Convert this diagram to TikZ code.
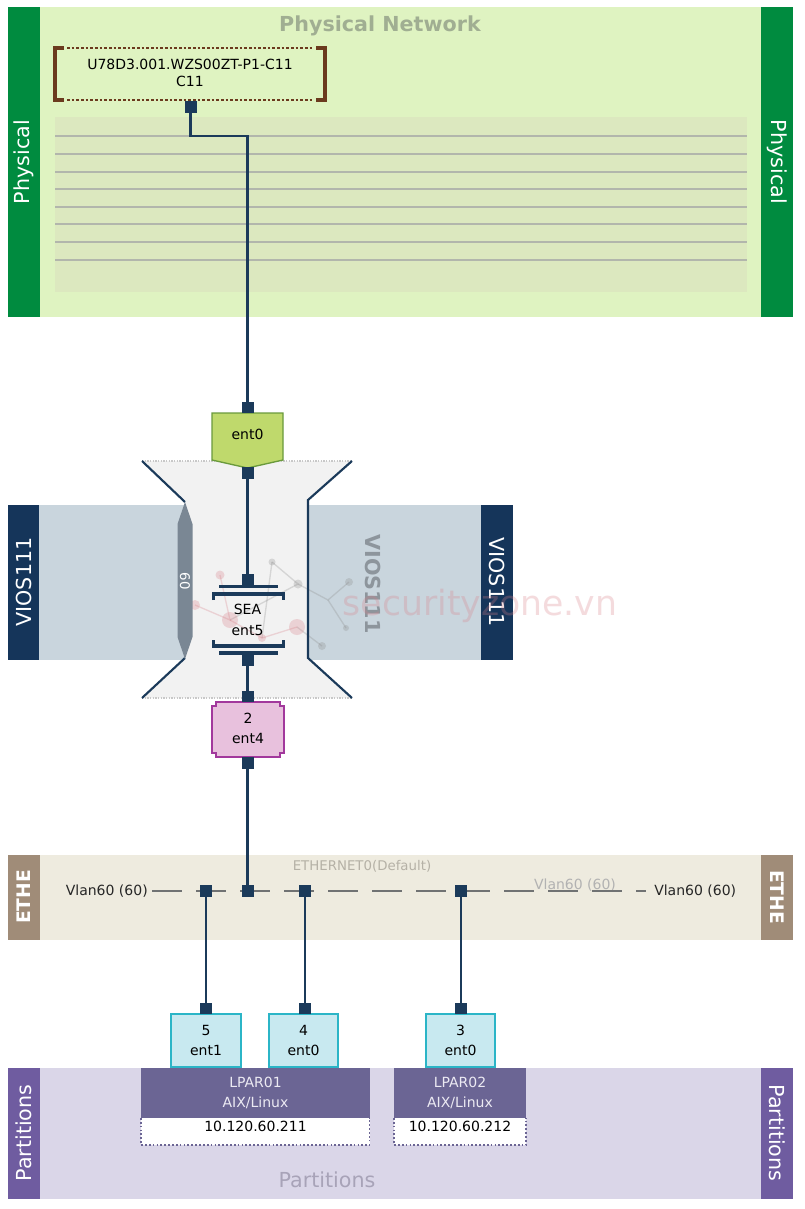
\documentclass[tikz,border=0pt]{standalone}
\usepackage{fontspec}
\setmainfont{DejaVu Sans}
\usetikzlibrary{calc}
\definecolor{navy}{HTML}{1B3A5A}
\definecolor{physbg}{HTML}{DFF3C1}
\definecolor{physin}{HTML}{DCE8BF}
\definecolor{physbar}{HTML}{008B3F}
\definecolor{physline}{HTML}{B2B6AC}
\definecolor{titlegray}{HTML}{A0AE92}
\definecolor{portbrown}{HTML}{6B3A1E}
\definecolor{entgreen}{HTML}{BFD96C}
\definecolor{entgreenb}{HTML}{6A9A3C}
\definecolor{viosbg}{HTML}{C9D5DD}
\definecolor{viosdark}{HTML}{15355A}
\definecolor{viostext}{HTML}{8D959C}
\definecolor{hgfill}{HTML}{F2F2F2}
\definecolor{hgdot}{HTML}{C8C8C8}
\definecolor{taggray}{HTML}{7A8794}
\definecolor{pinkfill}{HTML}{E8C1DD}
\definecolor{pinkb}{HTML}{A2389C}
\definecolor{ethebg}{HTML}{EEEBDF}
\definecolor{ethebar}{HTML}{A08C78}
\definecolor{ethtext}{HTML}{B5B1A6}
\definecolor{dashgray}{HTML}{707273}
\definecolor{cyanfill}{HTML}{C8E9F0}
\definecolor{cyanb}{HTML}{2BB5C7}
\definecolor{partbg}{HTML}{DAD6E8}
\definecolor{partbar}{HTML}{6F5CA0}
\definecolor{lparfill}{HTML}{6B6594}
\definecolor{lpartext}{HTML}{ECEAF3}
\definecolor{parttext}{HTML}{A8A3B8}
\definecolor{ipdot}{HTML}{6B6594}
\definecolor{wmpink}{HTML}{D87F88}
\definecolor{wmgray}{HTML}{8A8A8A}
\begin{document}
\begin{tikzpicture}[x=0.75pt,y=-0.75pt,
  barlabel/.style={text=white,font=\fontsize{15.5}{18}\selectfont,inner sep=0pt},
  barbold/.style={text=white,font=\bfseries\fontsize{14}{17}\selectfont,inner sep=0pt},
  lbl/.style={font=\fontsize{10.5}{14.5}\selectfont,align=center,inner sep=0pt},
  sq/.style={fill=navy,minimum width=9pt,minimum height=8.5pt,inner sep=0pt},
  sqs/.style={fill=navy,minimum width=9pt,minimum height=8.5pt,inner sep=0pt},
  conn/.style={draw=navy,line width=2.1pt},
  edge/.style={draw=navy,line width=1.6pt},
  entbox/.style={fill=cyanfill,draw=cyanb,line width=1.5pt,minimum width=52pt,minimum height=39.5pt,
     font=\fontsize{10.5}{14.5}\selectfont,align=center,inner sep=0pt},
  lparbox/.style={fill=lparfill,text=lpartext,minimum height=37.5pt,inner sep=0pt,
     font=\fontsize{10.5}{14.5}\selectfont,align=center},
  ipline/.style={draw=ipdot,line width=1.3pt,dash pattern=on 1.3pt off 1.6pt},
  vdash/.style={draw=dashgray,line width=1.2pt,dash pattern=on 22.5pt off 10.5pt}
]
\useasboundingbox (0,0) rectangle (805,1209);
\fill[white] (0,0) rectangle (805,1209);

% ---------- Physical band ----------
\fill[physbg] (8,7) rectangle (793,317);
\fill[physbar] (8,7) rectangle (40,317);
\fill[physbar] (761,7) rectangle (793,317);
\node[barlabel,rotate=90] (physL) at (24,162) {Physical};
\node[barlabel,rotate=-90] (physR) at (777,162) {Physical};
\node[text=titlegray,font=\bfseries\fontsize{15.5}{18}\selectfont] (physT) at (380,26) {Physical Network};
\fill[physin] (55,117) rectangle (747,292);
\foreach \yy in {136,154,172,189,207,224,242,260}
  \draw[physline,line width=1.3pt] (55,\yy) -- (747,\yy);

% port box
\draw[portbrown,line width=2.4pt] (64,48) -- (55,48) -- (55,100) -- (64,100);
\draw[portbrown,line width=2.4pt] (316,48) -- (325,48) -- (325,100) -- (316,100);
\draw[portbrown,line width=2.2pt,dash pattern=on 1.9pt off 1.6pt] (67,48) -- (314,48);
\draw[portbrown,line width=2.2pt,dash pattern=on 1.9pt off 1.6pt] (67,100) -- (314,100);
\node[lbl,font=\fontsize{10.5}{12.75}\selectfont] (port) at (190,73) {U78D3.001.WZS00ZT-P1-C11\\C11};
\node[sq] (p0) at (190.5,107) {};

% ---------- VIOS bands ----------
\fill[viosbg] (8,505) rectangle (185,660);
\fill[viosdark] (8,505) rectangle (39,660);
\fill[viosbg] (308,505) rectangle (513,660);
\fill[viosdark] (481,505) rectangle (513,660);
\node[barlabel,rotate=90] (viosL) at (23.5,582) {VIOS111};
\node[barlabel,rotate=-90] (viosR) at (497,582) {VIOS111};

% hourglass
\fill[hgfill] (142,461) -- (352,461) -- (308,500) -- (308,658) -- (352,698) -- (142,698) -- (185,658) -- (185,500) -- cycle;
\draw[hgdot,line width=1pt,dash pattern=on 1pt off 1pt] (142,461) -- (352,461);
\draw[hgdot,line width=1pt,dash pattern=on 1pt off 1pt] (142,698) -- (352,698);
\node[text=viostext,font=\bfseries\fontsize{15.5}{18}\selectfont,rotate=-90] (viosBig) at (373,584) {VIOS111};

% watermark
\begin{scope}[opacity=0.28]
  \coordinate (wa) at (220,575); \coordinate (wb) at (272,562);
  \coordinate (wc) at (298,584); \coordinate (wd) at (349,582);
  \coordinate (we) at (195,605); \coordinate (wf) at (230,620);
  \coordinate (wg) at (297,627); \coordinate (wh) at (322,646);
  \coordinate (wi) at (346,628); \coordinate (wj) at (328,600);
  \coordinate (wk) at (262,638);
  \draw[wmgray,line width=1pt] (wb) -- (wc) -- (wf);
  \draw[wmgray,line width=1pt] (wb) -- (wk);
  \draw[wmgray,line width=1pt] (wg) -- (wh);
  \draw[wmgray,line width=1pt] (wc) -- (wj) -- (wd);
  \draw[wmgray,line width=1pt] (wj) -- (wi);
  \draw[wmpink,line width=1pt] (wa) -- (wf) -- (we);
  \draw[wmpink,line width=1pt] (wf) -- (wk) -- (wg);
  \fill[wmpink] (wa) circle (4.5); \fill[wmgray] (wb) circle (3.5);
  \fill[wmgray] (wc) circle (4.5); \fill[wmgray] (wd) circle (4);
  \fill[wmpink] (we) circle (5); \fill[wmpink] (wf) circle (8);
  \fill[wmpink] (wg) circle (8); \fill[wmgray] (wh) circle (4);
  \fill[wmgray] (wi) circle (3); \fill[wmpink] (wk) circle (4);
  \node[text=wmpink,font=\fontsize{26}{30}\selectfont] (wm) at (480,606) {securityzone.vn};
\end{scope}

\draw[edge] (142,461) -- (185,502);
\draw[edge] (185,658) -- (142,698);
\draw[edge] (352,461) -- (308,500) -- (308,658) -- (352,698);
\fill[taggray] (185,502) -- (192.5,524) -- (192.5,637) -- (185,659) -- (177.5,637) -- (177.5,524) -- cycle;
\node[text=white,font=\fontsize{10}{12}\selectfont,rotate=-90] (tag) at (185,581) {60};

% ent0 (physical adapter)
\fill[entgreen,draw=entgreenb,line width=1pt] (212,413) -- (283,413) -- (283,460) -- (247.5,468) -- (212,460) -- cycle;
\node[lbl] (ent0) at (247.5,434) {ent0};
\node[sq] (s1) at (247.5,407.5) {};
\node[sq] (s2) at (247.5,473) {};

% SEA
\node[sq] (sea1) at (247.5,580) {};
\fill[navy] (219,584.5) rectangle (278,588);
\draw[navy,line width=2.6pt] (213.5,600) -- (213.5,594) -- (283.5,594) -- (283.5,600);
\node[lbl,font=\fontsize{10.5}{15.75}\selectfont] (sea) at (247.5,619.5) {SEA\\ent5};
\draw[navy,line width=2.6pt] (213.5,640) -- (213.5,646) -- (283.5,646) -- (283.5,640);
\fill[navy] (219,651) rectangle (278,654.5);
\node[sq] (sea2) at (247.5,660.5) {};

% ent4 virtual trunk
\fill[pinkfill,draw=pinkb,line width=1.2pt] (216,702) -- (280,702) -- (280,706) -- (284,706) -- (284,753) -- (280,753) -- (280,757)
  -- (216,757) -- (216,753) -- (212,753) -- (212,706) -- (216,706) -- cycle;
\node[lbl,font=\fontsize{10.5}{15}\selectfont] (ent4) at (248,728) {2\\ent4};
\node[sq] (e4t) at (247.5,696.5) {};
\node[sq] (e4b) at (247.5,763) {};

% ---------- ETHE band ----------
\fill[ethebg] (8,855) rectangle (793,940);
\fill[ethebar] (8,855) rectangle (40,940);
\fill[ethebar] (761,855) rectangle (793,940);
\node[barbold,rotate=90] (etheL) at (24,897) {ETHE};
\node[barbold,rotate=-90] (etheR) at (777,897) {ETHE};
\node[text=ethtext,font=\fontsize{10}{12}\selectfont] (ethname) at (362,866) {ETHERNET0(Default)};
\node[text=black!85,font=\fontsize{10.5}{12}\selectfont,anchor=east,inner sep=0pt] (vl) at (148,891) {Vlan60 (60)};
\node[text=black!85,font=\fontsize{10.5}{12}\selectfont,anchor=west,inner sep=0pt] (vr) at (654,891) {Vlan60 (60)};
\node[text=black!30,font=\fontsize{10.5}{12}\selectfont,inner sep=0pt] (vg) at (575,885) {Vlan60 (60)};
\coordinate (ds) at (152,891);
\coordinate (de) at (646,891);
\draw[vdash] (ds) -- (de);
\node[sq] (v1) at (206,891) {};
\node[sq] (v0) at (247.5,891) {};
\node[sq] (v2) at (305,891) {};
\node[sq] (v3) at (461,891) {};

% ---------- Partitions band ----------
\fill[partbg] (8,1068) rectangle (793,1199);
\fill[partbar] (8,1068) rectangle (40,1199);
\fill[partbar] (761,1068) rectangle (793,1199);
\node[barlabel,rotate=90] (partL) at (24,1133) {Partitions};
\node[barlabel,rotate=-90] (partR) at (777,1133) {Partitions};
\node[text=parttext,font=\fontsize{15.5}{18}\selectfont] (partT) at (327,1180) {Partitions};

\node[lparbox,minimum width=171.75pt] (lpar1) at (255.5,1093) {LPAR01\\AIX/Linux};
\fill[white] (141,1118) rectangle (369.5,1145);
\draw[ipline] (141,1118) -- (141,1145) -- (369.5,1145) -- (369.5,1118);
\node[lbl] (ip1) at (255.5,1126.5) {10.120.60.211};

\node[lparbox,minimum width=99pt] (lpar2) at (460,1093) {LPAR02\\AIX/Linux};
\fill[white] (394,1118) rectangle (526,1145);
\draw[ipline] (394,1118) -- (394,1145) -- (526,1145) -- (526,1118);
\node[lbl] (ip2) at (460,1126.5) {10.120.60.212};

% client adapters
\node[entbox] (c1) at (206,1040.5) {5\\ent1};
\node[entbox] (c2) at (303.5,1040.5) {4\\ent0};
\node[entbox] (c3) at (460.5,1040.5) {3\\ent0};
\node[sqs] (t1) at (206,1008.5) {};
\node[sqs] (t2) at (305,1008.5) {};
\node[sqs] (t3) at (461,1008.5) {};

% ---------- connectors ----------
\coordinate (b1) at (190.5,136);
\draw[conn] (p0) -- (b1) -| (s1);
\draw[conn] (s2) -- (sea1);
\draw[conn] (sea2) -- (e4t);
\draw[conn] (e4b) -- (v0);
\draw[conn] (v1) -- (t1);
\draw[conn] (v2) -- (t2);
\draw[conn] (v3) -- (t3);
\end{tikzpicture}
\end{document}
